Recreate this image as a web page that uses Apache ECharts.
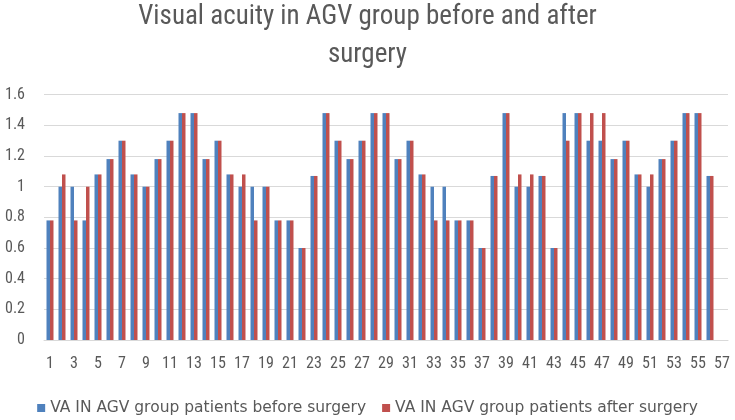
<!DOCTYPE html>
<html>
<head>
<meta charset="utf-8">
<script src="https://cdn.jsdelivr.net/npm/echarts@6/dist/echarts.min.js"></script>
<style>html,body{margin:0;padding:0;background:#fff}#c{width:735px;height:420px}</style>
</head>
<body>
<div id="c"></div>
<script>
const categories = Array.from({length: 57}, (_, i) => String(i + 1));
const beforeSurgery = [
  0.78, 1, 1, 0.78, 1.08, 1.18, 1.3, 1.08, 1, 1.18,
  1.3, 1.48, 1.48, 1.18, 1.3, 1.08, 1, 1, 1, 0.78,
  0.78, 0.6, 1.07, 1.48, 1.3, 1.18, 1.3, 1.48, 1.48, 1.18,
  1.3, 1.08, 1, 1, 0.78, 0.78, 0.6, 1.07, 1.48, 1,
  1, 1.07, 0.6, 1.48, 1.48, 1.3, 1.3, 1.18, 1.3, 1.08,
  1, 1.18, 1.3, 1.48, 1.48, 1.07, null
];
const afterSurgery = [
  0.78, 1.08, 0.78, 1, 1.08, 1.18, 1.3, 1.08, 1, 1.18,
  1.3, 1.48, 1.48, 1.18, 1.3, 1.08, 1.08, 0.78, 1, 0.78,
  0.78, 0.6, 1.07, 1.48, 1.3, 1.18, 1.3, 1.48, 1.48, 1.18,
  1.3, 1.08, 0.78, 0.78, 0.78, 0.78, 0.6, 1.07, 1.48, 1.08,
  1.08, 1.07, 0.6, 1.3, 1.48, 1.48, 1.48, 1.18, 1.3, 1.08,
  1.08, 1.18, 1.3, 1.48, 1.48, 1.07, null
];
const seriesNames = ['VA IN AGV group patients before surgery', 'VA IN AGV group patients after surgery'];
const titleText = 'Visual acuity in AGV group before and after\nsurgery';

const chart = echarts.init(document.getElementById('c'), null, {renderer: 'canvas'});
const cond = '"Roboto Condensed", sans-serif';
chart.setOption({
  animation: false,
  title: {
    text: titleText,
    left: 'center',
    top: -7,
    textStyle: {fontFamily: cond, fontSize: 27, fontWeight: 'normal', color: '#595959', lineHeight: 38}
  },
  legend: {
    bottom: 4,
    left: 'center',
    padding: 0,
    itemWidth: 8,
    itemHeight: 8,
    itemGap: 16,
    icon: 'rect',
    textStyle: {fontFamily: '"DejaVu Sans", sans-serif', fontSize: 15.5, color: '#595959'},
    data: seriesNames
  },
  grid: {left: 44, right: 7, top: 94.7, bottom: 80, containLabel: false},
  xAxis: {
    type: 'category',
    data: categories,
    axisTick: {show: false},
    axisLine: {lineStyle: {color: '#d9d9d9'}},
    axisLabel: {interval: 1, color: '#595959', fontFamily: cond, fontSize: 16, margin: 16}
  },
  yAxis: {
    type: 'value',
    min: 0, max: 1.6, interval: 0.2,
    axisLine: {show: false},
    axisTick: {show: false},
    splitLine: {lineStyle: {color: '#d9d9d9'}},
    axisLabel: {color: '#595959', fontFamily: cond, fontSize: 16, margin: 19}
  },
  series: [
    {name: seriesNames[0], type: 'bar', data: beforeSurgery, barWidth: 3.5, barGap: '0%', itemStyle: {color: '#4F81BD'}},
    {name: seriesNames[1], type: 'bar', data: afterSurgery, barWidth: 3.5, barGap: '0%', itemStyle: {color: '#C0504D'}}
  ]
});
</script>
</body>
</html>
